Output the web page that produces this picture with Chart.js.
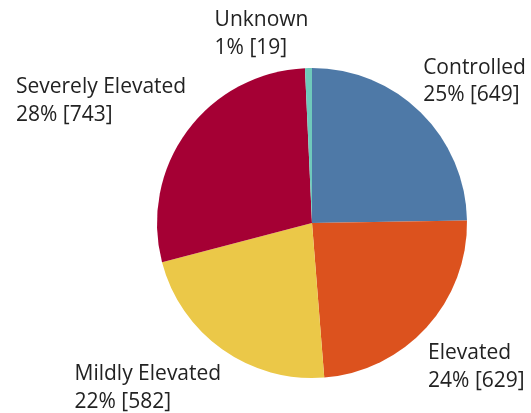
<!DOCTYPE html>
<html>
<head>
<meta charset="utf-8">
<script src="https://cdn.jsdelivr.net/npm/chart.js@4"></script>
<style>
html,body{margin:0;padding:0;background:#fff;}
#wrap{width:531px;height:413px;position:relative;}
</style>
</head>
<body>
<div id="wrap"><canvas id="c" width="531" height="413"></canvas></div>
<script>
const categories = ["Controlled", "Elevated", "Mildly Elevated", "Severely Elevated", "Unknown"];
const counts = [649, 629, 582, 743, 19];
const percentLabels = ["25%", "24%", "22%", "28%", "1%"];
const colors = ["#4e79a7", "#dc521e", "#ebc848", "#a50034", "#6fc9bb"];

const labelPlugin = {
  id: 'outLabels',
  afterDraw(chart, args, opts) {
    const ctx = chart.ctx;
    const meta = chart.getDatasetMeta(0);
    ctx.save();
    ctx.font = opts.font;
    ctx.fillStyle = opts.color;
    ctx.textBaseline = 'alphabetic';
    ctx.textAlign = 'left';
    meta.data.forEach((arc, i) => {
      const p = arc.getProps(['x','y','startAngle','endAngle','outerRadius'], true);
      const mid = (p.startAngle + p.endAngle) / 2;
      const ax = p.x + Math.cos(mid) * p.outerRadius;
      const ay = p.y + Math.sin(mid) * p.outerRadius;
      const o = opts.place[i];
      const l1 = categories[i];
      const l2 = percentLabels[i] + ' [' + counts[i] + ']';
      const w = Math.max(ctx.measureText(l1).width, ctx.measureText(l2).width);
      const x = (o.side === 'right' ? ax - w : ax) + o.dx;
      const y = ay + o.dy;
      ctx.fillText(l1, x, y);
      ctx.fillText(l2, x, y + opts.lineHeight);
    });
    ctx.restore();
  }
};

new Chart(document.getElementById('c'), {
  type: 'pie',
  data: {
    labels: categories,
    datasets: [{
      data: counts,
      backgroundColor: colors,
      borderWidth: 0
    }]
  },
  options: {
    responsive: false,
    animation: false,
    layout: { padding: { left: 157, right: 64, top: 68, bottom: 35 } },
    plugins: {
      legend: { display: false },
      tooltip: { enabled: false },
      outLabels: {
        font: '21px "Open Sans"',
        color: '#222',
        lineHeight: 27.5,
        place: [
          { side: 'left', dx: 2.4, dy: -39 },
          { side: 'left', dx: 1.4, dy: 32 },
          { side: 'right', dx: -1, dy: 31 },
          { side: 'right', dx: -1, dy: -38 },
          { side: 'right', dx: 0, dy: -42 }
        ]
      }
    }
  },
  plugins: [labelPlugin]
});
</script>
</body>
</html>
